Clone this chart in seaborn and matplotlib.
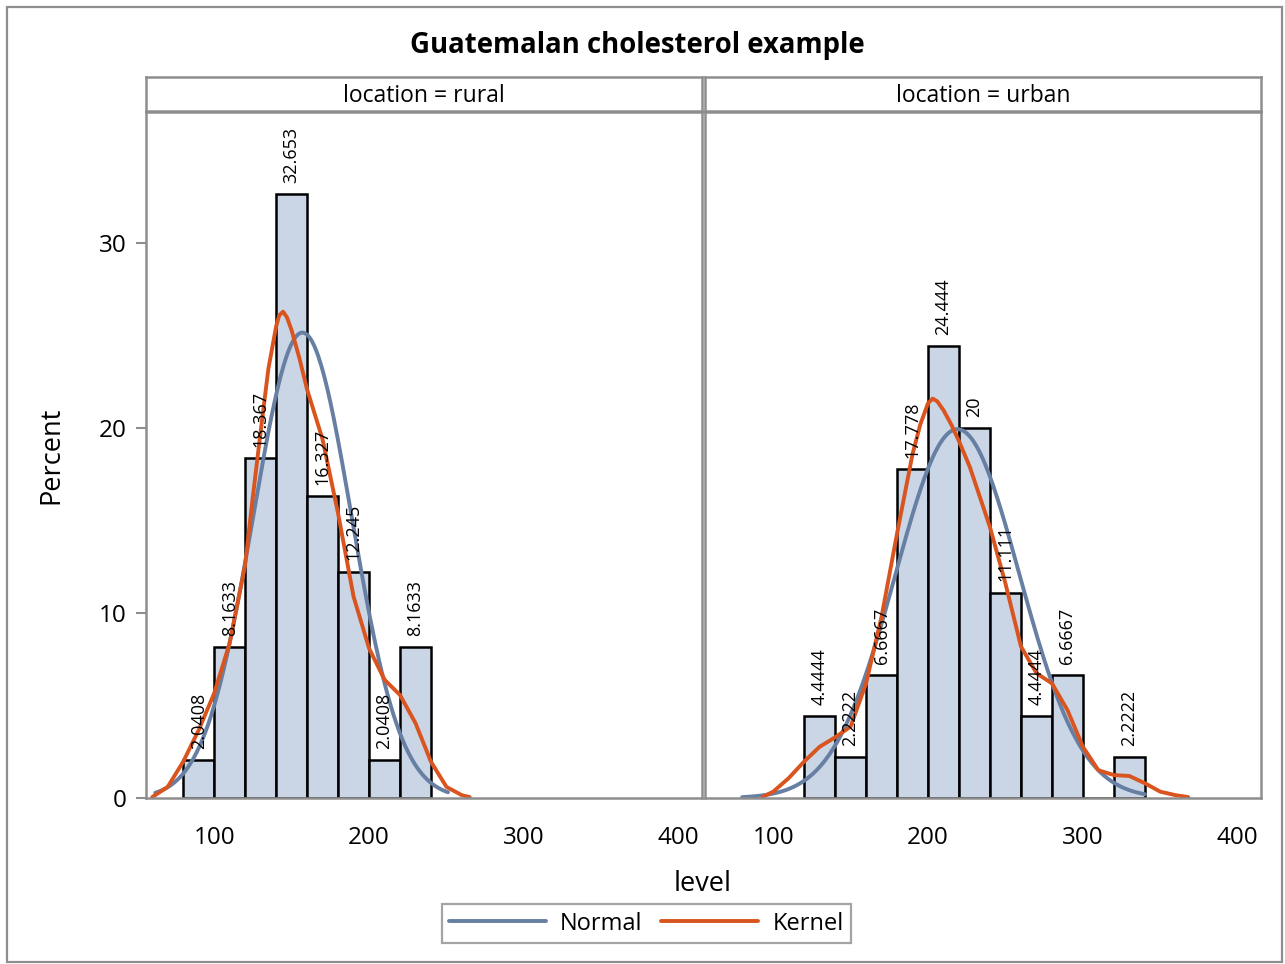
import numpy as np
import pandas as pd
import matplotlib
matplotlib.use("Agg")
import matplotlib.pyplot as plt
from matplotlib.patches import Rectangle
from matplotlib.lines import Line2D
import seaborn as sns

# data
bin_width = 20
rural_edges = [80, 100, 120, 140, 160, 180, 200, 220]
rural_pct = [2.0408, 8.1633, 18.367, 32.653, 16.327, 12.245, 2.0408, 8.1633]
urban_edges = [120, 140, 160, 180, 200, 220, 240, 260, 280, 300, 320]
urban_pct = [4.4444, 2.2222, 6.6667, 17.778, 24.444, 20, 11.111, 4.4444, 6.6667, 0, 2.2222]

# fitted normal parameters (mean, sd) and drawn range
rural_normal = (157, 31.7, 62, 251)
urban_normal = (219, 40.0, 80, 340)

# kernel density curves (percent)
rural_kx = [60, 70, 80, 90, 100, 110, 120, 125, 130, 135, 140, 142, 144.5, 147, 150, 155, 160,
            170, 180, 190, 200, 210, 220, 230, 240, 250, 260, 265]
rural_ky = [0.05, 0.6, 1.96, 3.67, 5.66, 8.37, 12.6, 16.3, 19.8, 23.2, 25.5, 26.1, 26.3, 26.0,
            25.3, 23.8, 22.1, 19.4, 15.4, 10.9, 8.1, 6.4, 5.57, 4.05, 1.96, 0.6, 0.15, 0.05]
urban_kx = [93, 100, 110, 120, 130, 140, 150, 160, 170, 180, 190, 195, 200, 203, 206, 210, 215,
            220, 227, 240, 250, 260, 270, 280, 290, 300, 310, 320, 330, 340, 350, 360, 368]
urban_ky = [0.05, 0.34, 1.07, 1.97, 2.77, 3.28, 3.86, 6.2, 9.8, 14.3, 18.6, 20.2, 21.35, 21.6,
            21.45, 20.97, 20.2, 19.3, 17.9, 14.65, 11.6, 8.2, 6.75, 6.2, 4.76, 2.77, 1.5, 1.24,
            1.19, 0.8, 0.34, 0.15, 0.05]

panels = [("rural", rural_edges, rural_pct, rural_normal, rural_kx, rural_ky),
          ("urban", urban_edges, urban_pct, urban_normal, urban_kx, urban_ky)]

sns.set_style("white")
plt.rcParams['font.family'] = ['Open Sans', 'DejaVu Sans']
plt.rcParams['text.color'] = 'black'

bar_fill = "#CAD5E5"
c_normal = "#667FA2"
c_kernel = "#D9541E"
frame = "#8E8E8E"

fig = plt.figure(figsize=(12.85, 9.64), dpi=100)

# outer border
fig.add_artist(Rectangle((0.0058, 0.002), 0.9922, 0.9905, transform=fig.transFigure,
                         fill=False, edgecolor=frame, lw=1.6))

lefts = [146 / 1285, 705 / 1285]
w = 556 / 1285
for i, (name, edges, pct, norm, kx, ky) in enumerate(panels):
    ax = fig.add_axes([lefts[i], 1 - 798 / 964, w, 686 / 964])
    df = pd.DataFrame({"level": np.array(edges) + bin_width / 2, "pct": pct})
    sns.histplot(data=df, x="level", weights="pct", binwidth=bin_width,
                 binrange=(edges[0], edges[-1] + bin_width), stat="count",
                 color=bar_fill, edgecolor="black", linewidth=1.8, alpha=1, ax=ax)

    m, s, lo, hi = norm
    xs = np.linspace(lo, hi, 200)
    ys = 100 * bin_width * np.exp(-0.5 * ((xs - m) / s) ** 2) / (s * np.sqrt(2 * np.pi))
    sns.lineplot(x=xs, y=ys, color=c_normal, lw=2.8, ax=ax, sort=False)
    sns.lineplot(x=kx, y=ky, color=c_kernel, lw=2.8, ax=ax, sort=False)

    for e, v in zip(edges, pct):
        if v > 0:
            ax.annotate(f"{v:.5g}", (e + bin_width / 2, v), xytext=(0, 8),
                        textcoords="offset points", rotation=90, ha="center",
                        va="bottom", fontsize=13)

    ax.set_xlim(56, 415)
    ax.set_ylim(0, 37.1)
    ax.set_xticks([100, 200, 300, 400])
    ax.set_yticks([0, 10, 20, 30])
    ax.set_xlabel("")
    ax.set_ylabel("")
    for sp in ax.spines.values():
        sp.set_color(frame)
        sp.set_linewidth(1.8)
    ax.tick_params(axis="x", length=9, width=1.5, color=frame, labelcolor="black",
                   labelsize=17.5, pad=11)
    ax.tick_params(axis="y", length=7, width=1.5, color=frame, labelcolor="black",
                   labelsize=17.5, pad=7, left=(i == 0), labelleft=(i == 0))

    hx = fig.add_axes([lefts[i], 1 - 111 / 964, w, 34 / 964])
    hx.set_xticks([])
    hx.set_yticks([])
    for sp in hx.spines.values():
        sp.set_color(frame)
        sp.set_linewidth(1.8)
    hx.text(0.5, 0.45, f"location = {name}", ha="center", va="center",
            fontsize=16.5, transform=hx.transAxes)

fig.text(0.496, 0.953, "Guatemalan cholesterol example", ha="center", va="center",
         fontsize=19.8, fontweight="bold")
fig.text(0.547, 0.083, "level", ha="center", va="center", fontsize=19.5)
fig.text(0.040, 0.528, "Percent", ha="center", va="center", fontsize=19.5, rotation=90)

handles = [Line2D([], [], color=c_normal, lw=2.8), Line2D([], [], color=c_kernel, lw=2.8)]
leg = fig.legend(handles, ["Normal", "Kernel"], loc="center", bbox_to_anchor=(0.503, 0.042),
                 ncol=2, frameon=True, fancybox=False, fontsize=17, handlelength=4.1,
                 handletextpad=0.6, columnspacing=0.8, borderpad=0.3)
leg.get_frame().set_edgecolor(frame)
leg.get_frame().set_linewidth(1.6)

fig.savefig("out.png", dpi=100)
